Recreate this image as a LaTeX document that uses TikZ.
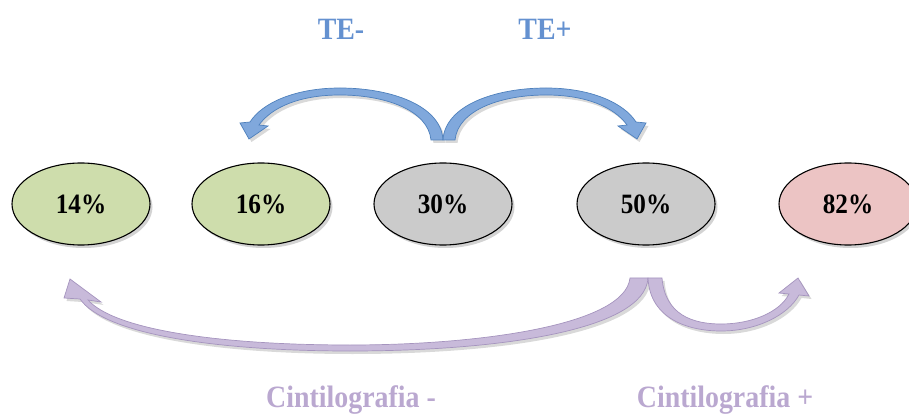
\documentclass[tikz,border=0pt]{standalone}
\usepackage{fontspec}
\setmainfont{Liberation Serif}
\usetikzlibrary{shapes.geometric,shadows}
\definecolor{grn}{RGB}{206,221,172}
\definecolor{gry}{RGB}{203,203,203}
\definecolor{pnk}{RGB}{236,196,196}
\definecolor{blufill}{RGB}{128,168,220}
\definecolor{bluedge}{RGB}{78,128,188}
\definecolor{blutext}{RGB}{100,145,208}
\definecolor{lavfill}{RGB}{200,186,218}
\definecolor{lavedge}{RGB}{165,148,190}
\definecolor{lavtext}{RGB}{186,168,208}
\newcommand{\narrow}[1]{\scalebox{0.9}[1]{#1}}
\tikzset{
  pct/.style={ellipse, draw=black, line width=1.1pt, minimum width=138pt, minimum height=82pt,
    inner sep=0pt, font=\fontsize{28}{28}\selectfont\bfseries,
    drop shadow={opacity=0.35, shadow xshift=2.5pt, shadow yshift=-3pt}},
  lbl/.style={font=\fontsize{31}{31}\selectfont\bfseries},
  bluarrow/.style={fill=blufill, draw=bluedge, line width=0.7pt,
    drop shadow={opacity=0.3, shadow xshift=2.5pt, shadow yshift=-3pt}},
  lavarrow/.style={fill=lavfill, draw=lavedge, line width=0.7pt,
    drop shadow={opacity=0.3, shadow xshift=2.5pt, shadow yshift=-3pt}}
}
\begin{document}
\begin{tikzpicture}[x=1pt,y=-1pt]
\useasboundingbox (0,0) rectangle (909,419);
% ellipses
\node[pct, fill=grn] (e14) at (81,204) {\narrow{14\%}};
\node[pct, fill=grn] (e16) at (261,204) {\narrow{16\%}};
\node[pct, fill=gry] (e30) at (443,204) {\narrow{30\%}};
\node[pct, fill=gry] (e50) at (646,204) {\narrow{50\%}};
\node[pct, fill=pnk] (e82) at (848,204) {\narrow{82\%}};
% labels
\node[lbl, text=blutext] (teneg) at (341,29) {\narrow{TE-}};
\node[lbl, text=blutext] (tepos) at (545,29) {\narrow{TE+}};
\node[lbl, text=lavtext] (cneg) at (351,400) {\narrow{Cintilografia -}};
\node[lbl, text=lavtext] (cpos) at (725,400) {\narrow{Cintilografia +}};
% blue arrows (TE- and TE+)
\draw[bluarrow] (443,140) .. controls (441,105) and (390,88) .. (340,88)
  .. controls (295,88) and (262,103) .. (250,122)
  -- (240,123) -- (249,139) -- (268,126) -- (259,125)
  .. controls (272,107) and (300,95) .. (340,95)
  .. controls (385,95) and (428,110) .. (431,140) -- cycle;
\draw[bluarrow] (443,140) .. controls (445,105) and (496,88) .. (546,88)
  .. controls (591,88) and (624,103) .. (636,122)
  -- (646,123) -- (637,139) -- (618,126) -- (627,125)
  .. controls (614,107) and (586,95) .. (546,95)
  .. controls (501,95) and (458,110) .. (455,140) -- cycle;
% lavender arrows (Cintilografia - and +)
\draw[lavarrow] (648,278) .. controls (645,330) and (500,351) .. (350,351)
  .. controls (220,351) and (105,335) .. (80,299)
  -- (64,298) -- (70,279) -- (101,302) -- (88,300)
  .. controls (115,330) and (220,345) .. (350,345)
  .. controls (480,345) and (625,325) .. (630,278) -- cycle;
\draw[lavarrow] (648,278) .. controls (650,320) and (690,331) .. (721,331)
  .. controls (757,331) and (788,315) .. (799,295)
  -- (809,296) -- (798,278) -- (779,293) -- (789,294)
  .. controls (780,312) and (752,324) .. (721,324)
  .. controls (693,324) and (665,315) .. (662,278) -- cycle;
\end{tikzpicture}
\end{document}
